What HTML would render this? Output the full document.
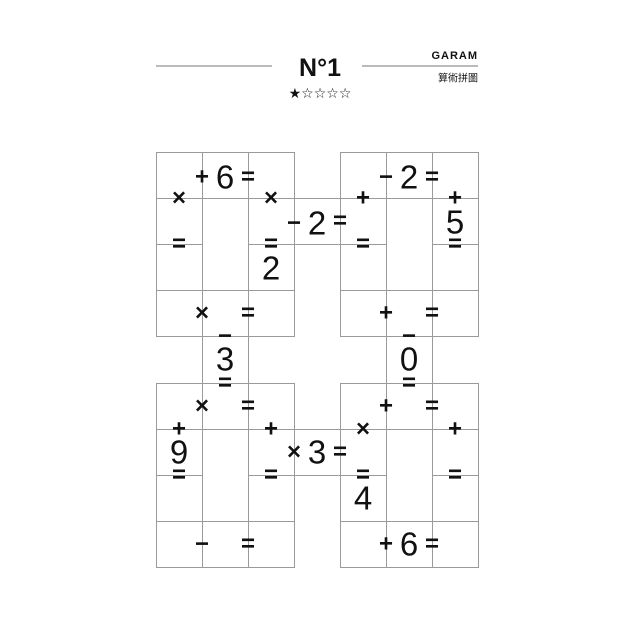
<!DOCTYPE html>
<html><head><meta charset="utf-8"><style>
html,body{margin:0;padding:0;background:#fff;width:640px;height:640px;overflow:hidden}
svg{display:block}
.d{font-family:"Liberation Sans",sans-serif;font-size:33px;fill:#111;text-anchor:middle;dominant-baseline:central}
.o{font-family:"Liberation Sans",sans-serif;font-size:24px;font-weight:bold;fill:#111;text-anchor:middle;dominant-baseline:central}
</style></head><body>
<svg width="640" height="640" viewBox="0 0 640 640">
<g stroke="#9a9a9a" stroke-width="1" fill="none">
<line x1="156" y1="66" x2="272" y2="66" stroke="#777"/>
<line x1="362" y1="66" x2="478" y2="66" stroke="#777"/>
<rect x="156.5" y="152.5" width="138" height="184"/>
<rect x="340.5" y="152.5" width="138" height="184"/>
<rect x="156.5" y="383.5" width="138" height="184"/>
<rect x="340.5" y="383.5" width="138" height="184"/>
<line x1="156" y1="198.5" x2="478" y2="198.5"/>
<line x1="156" y1="244.5" x2="202" y2="244.5"/>
<line x1="248" y1="244.5" x2="386" y2="244.5"/>
<line x1="432" y1="244.5" x2="478" y2="244.5"/>
<line x1="156" y1="290.5" x2="294" y2="290.5"/>
<line x1="340" y1="290.5" x2="478" y2="290.5"/>
<line x1="156" y1="429.5" x2="478" y2="429.5"/>
<line x1="156" y1="475.5" x2="202" y2="475.5"/>
<line x1="248" y1="475.5" x2="386" y2="475.5"/>
<line x1="432" y1="475.5" x2="478" y2="475.5"/>
<line x1="156" y1="521.5" x2="294" y2="521.5"/>
<line x1="340" y1="521.5" x2="478" y2="521.5"/>
<line x1="202.5" y1="152" x2="202.5" y2="567"/>
<line x1="248.5" y1="152" x2="248.5" y2="567"/>
<line x1="386.5" y1="152" x2="386.5" y2="567"/>
<line x1="432.5" y1="152" x2="432.5" y2="567"/>
</g>
<text x="320" y="68" text-anchor="middle" dominant-baseline="central" font-family="Liberation Sans,sans-serif" font-weight="bold" font-size="25" fill="#111">N°1</text>
<text x="320" y="94" text-anchor="middle" dominant-baseline="central" font-family="DejaVu Sans,sans-serif" font-size="14" fill="#111">★☆☆☆☆</text>
<text x="478" y="56" text-anchor="end" dominant-baseline="central" font-family="Liberation Sans,sans-serif" font-weight="bold" font-size="11" letter-spacing="1" fill="#111">GARAM</text>
<text x="478" y="77" text-anchor="end" dominant-baseline="central" font-family="Noto Sans CJK TC,sans-serif" font-size="10" fill="#111">算術拼圖</text>
<text class="o" x="202" y="177">+</text><text class="d" x="225" y="177">6</text><text class="o" x="248" y="177">=</text>
<text class="o" x="179" y="198">×</text><text class="o" x="271" y="198">×</text>
<text class="o" x="179" y="244">=</text><text class="o" x="271" y="244">=</text><text class="d" x="271" y="268">2</text>
<text class="o" x="294" y="223">−</text><text class="d" x="317" y="223">2</text><text class="o" x="340" y="221">=</text>
<text class="o" x="386" y="177">−</text><text class="d" x="409" y="177">2</text><text class="o" x="432" y="177">=</text>
<text class="o" x="363" y="198">+</text><text class="o" x="455" y="198">+</text><text class="d" x="455" y="222">5</text>
<text class="o" x="363" y="244">=</text><text class="o" x="455" y="244">=</text>
<text class="o" x="202" y="313">×</text><text class="o" x="248" y="313">=</text>
<text class="o" x="386" y="313">+</text><text class="o" x="432" y="313">=</text>
<text class="o" x="225" y="336">−</text><text class="d" x="225" y="359">3</text><text class="o" x="225" y="383">=</text>
<text class="o" x="409" y="336">−</text><text class="d" x="409" y="359">0</text><text class="o" x="409" y="383">=</text>
<text class="o" x="202" y="406">×</text><text class="o" x="248" y="406">=</text>
<text class="o" x="179" y="429">+</text><text class="d" x="179" y="452">9</text><text class="o" x="179" y="475">=</text>
<text class="o" x="271" y="429">+</text><text class="o" x="271" y="475">=</text>
<text class="o" x="294" y="452">×</text><text class="d" x="317" y="452">3</text><text class="o" x="340" y="452">=</text>
<text class="o" x="202" y="544">−</text><text class="o" x="248" y="544">=</text>
<text class="o" x="386" y="406">+</text><text class="o" x="432" y="406">=</text>
<text class="o" x="363" y="429">×</text><text class="o" x="455" y="429">+</text>
<text class="o" x="363" y="475">=</text><text class="d" x="363" y="498">4</text><text class="o" x="455" y="475">=</text>
<text class="o" x="386" y="544">+</text><text class="d" x="409" y="544">6</text><text class="o" x="432" y="544">=</text>
</svg>
</body></html>
